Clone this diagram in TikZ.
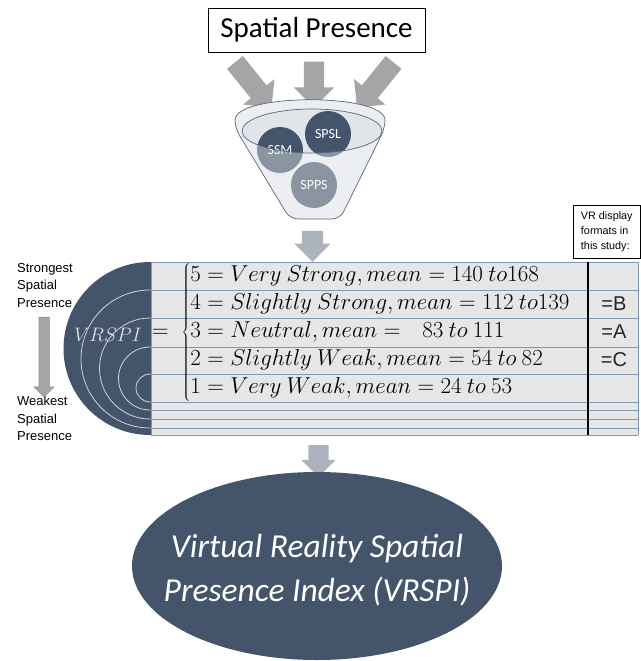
\documentclass[tikz,border=0pt]{standalone}
\usepackage{fix-cm}
\usepackage{fontspec}
\setmainfont{Carlito}
\newfontfamily\arialish{Liberation Sans}
\usetikzlibrary{shapes.arrows,shapes.geometric}
\definecolor{slate}{HTML}{44546A}
\definecolor{arrowgray}{HTML}{A5A5A5}
\definecolor{lightarrow}{HTML}{ADB3BC}
\definecolor{tablefill}{HTML}{E7E6E6}
\definecolor{rowline}{HTML}{8497B0}
\definecolor{funnelfill}{HTML}{E1E4E9}
\definecolor{funnelline}{HTML}{56677E}
\definecolor{vrspitext}{HTML}{DDDFE3}
\newcommand{\funnelpath}{(235,128) .. controls (235,93) and (385,93) .. (385,128) -- (340,219) -- (290,219) -- cycle}

\begin{document}
\begin{tikzpicture}[x=1pt,y=-1pt]
\tikzstyle{blockarrow}=[single arrow,fill=arrowgray,draw=none,inner xsep=0pt,inner ysep=10pt,single arrow head indent=0pt,single arrow head extend=10pt,minimum width=40pt]
\tikzstyle{member}=[circle,fill=slate,text=white,inner sep=0pt,minimum size=46pt,font=\fontsize{14}{16}\selectfont]
\tikzstyle{arcline}=[draw=white,draw opacity=0.75,line width=0.8pt]
\tikzstyle{rowline}=[draw=rowline,line width=0.8pt]
\tikzstyle{fmt}=[font=\arialish\fontsize{20}{22}\selectfont,text=black!85]
\useasboundingbox (0,0) rectangle (640,661);
\node[draw,line width=0.8pt,minimum width=217pt,minimum height=44pt,font=\fontsize{29}{32}\selectfont] (title) at (316.5,30) {Spatial Presence};
\node[blockarrow,minimum height=46pt,rotate=-90] (arrM) at (314,79.5) {};
\node[blockarrow,minimum height=58pt,rotate=-51] (arrL) at (250,81) {};
\node[blockarrow,minimum height=58pt,rotate=-129] (arrR) at (378.5,81) {};
\fill[funnelfill,rounded corners=8pt] \funnelpath;
\node[member] (ssm) at (280,150) {SSM};
\node[member] (spsl) at (328,134) {SPSL};
\node[member] (spps) at (314,185) {SPPS};
\fill[white,opacity=0.38,even odd rule,rounded corners=8pt] \funnelpath (312,131) ellipse [x radius=70pt,y radius=22pt];
\draw[funnelline,line width=0.7pt] (312,131) ellipse [x radius=70pt,y radius=22pt];
\draw[funnelline,line width=0.7pt,rounded corners=8pt] \funnelpath;
\node[blockarrow,fill=lightarrow,inner ysep=10.5pt,minimum height=31pt,minimum width=36pt,single arrow head extend=7.5pt,rotate=-90] (arrTab) at (312.5,241) {};
\fill[slate] (150,348.5) circle (86.5pt);
\foreach \cy/\r in {359/69,368.5/50.5,378.5/31.5,388/14}
  \draw[arcline] (150,\cy) circle (\r pt);
\fill[tablefill] (151,262) rectangle (638,435);
\foreach \ry in {262,290,318,347,374,402,410,419,428,435}
  \draw[rowline] (151,\ry) -- (638,\ry);
\draw[rowline] (151,262) -- (151,435);
\draw[rowline] (638,262) -- (638,435);
\draw[black,line width=1.2pt] (588,262) -- (588,435);
\node[draw,line width=0.6pt,anchor=north west,minimum width=67pt,minimum height=53pt,align=left,inner xsep=6pt,font=\arialish\fontsize{10.8}{15}\selectfont] (vrbox) at (573,205) {VR display\\formats in\\this study:};
\node[anchor=north west,align=left,inner sep=0pt,font=\arialish\fontsize{13}{17.5}\selectfont] (strong) at (17,263) {Strongest\\Spatial\\Presence};
\node[anchor=north west,align=left,inner sep=0pt,font=\arialish\fontsize{13}{17.5}\selectfont] (weak) at (17,396) {Weakest\\Spatial\\Presence};
\node[blockarrow,draw=black!45,line width=0.5pt,inner ysep=5pt,minimum height=80pt,minimum width=20pt,single arrow head extend=5pt,rotate=-90] (arrScale) at (44,354.5) {};
\node[text=vrspitext,font=\fontsize{19.5}{24}\selectfont] (vrspi) at (108,335) {$VRSPI$};
\node[anchor=west,inner sep=0pt,font=\fontsize{23}{27}\selectfont] (levels) at (152,332) {\renewcommand{\arraystretch}{1.037}$=\;\left\{\begin{array}{@{}l@{}}
5 = Very\ Strong, mean = 140\ to168\\
4 = Slightly\ Strong, mean = 112\ to139\\
3 = Neutral, mean =\ \ \ 83\ to\ 111\\
2 = Slightly\ Weak, mean = 54\ to\ 82\\
1 = Very\ Weak, mean = 24\ to\ 53
\end{array}\right.$};
\node[fmt] (fmtB) at (614,304) {=B};
\node[fmt] (fmtA) at (614,332) {=A};
\node[fmt] (fmtC) at (614,360) {=C};
\node[blockarrow,fill=lightarrow,minimum height=32pt,minimum width=34pt,single arrow head extend=7pt,rotate=-90] (arrIdx) at (318.5,456) {};
\node[ellipse,fill=slate,inner sep=0pt,minimum width=370pt,minimum height=188pt] (index) at (317,566) {};
\node[text=white,align=center,font=\itshape\fontsize{33.5}{44}\selectfont] (indexText) at (317,570) {Virtual Reality Spatial\\Presence Index (VRSPI)};
\end{tikzpicture}
\end{document}
